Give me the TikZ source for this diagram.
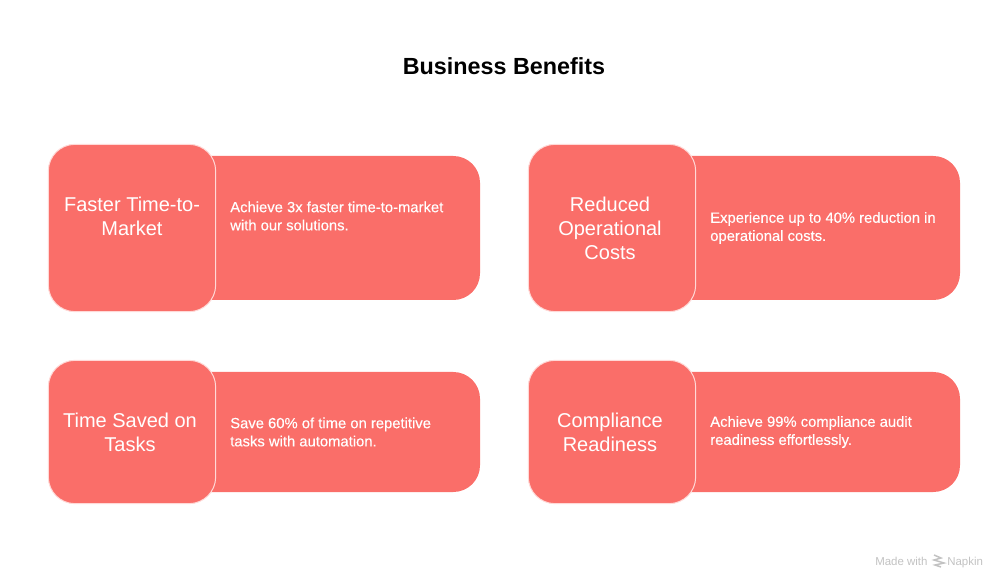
\documentclass[tikz,border=0pt]{standalone}
\usepackage{fontspec}
\setmainfont{Liberation Sans}
\newfontfamily\medfont[FakeBold=0.25]{Liberation Sans}
\definecolor{coral}{HTML}{FA6E69}
\definecolor{edge}{HTML}{FFD9D7}
\definecolor{creditgray}{HTML}{C2C2C2}
\tikzset{
  x=0.75pt,y=-0.75pt,
  panel/.style={fill=coral,draw=none},
  tile/.style={fill=coral,draw=edge,line width=0.75pt,rectangle,rounded corners=20pt,inner sep=0pt,minimum width=125.5pt},
  headtext/.style={text=white,font=\fontsize{15}{18}\selectfont,align=center,inner sep=0pt},
  bodytext/.style={text=white,font=\medfont\fontsize{11.1}{13.6}\selectfont,align=left,anchor=west,inner sep=0pt},
  titletext/.style={text=black,font=\fontsize{17.5}{22}\selectfont\bfseries,inner sep=0pt},
  credit/.style={text=creditgray,font=\fontsize{8.6}{10}\selectfont,inner sep=0pt,anchor=base west},
}
\begin{document}
\begin{tikzpicture}
\useasboundingbox (0,0) rectangle (1008,588);
\node[titletext] (title) at (504,66) {Business Benefits};
% row one
\fill[panel] (205,156) [rounded corners=20pt] -- (480,156) -- (480,300) [sharp corners] -- (205,300) -- cycle;
\node[tile,minimum height=125.5pt] (t1) at (132,228) {};
\node[headtext] (h1) at (132,216) {Faster Time-to-\\Market};
\node[bodytext] (b1) at (230,216) {Achieve 3x faster time-to-market\\with our solutions.};
\fill[panel] (685,156) [rounded corners=20pt] -- (960,156) -- (960,300) [sharp corners] -- (685,300) -- cycle;
\node[tile,minimum height=125.5pt] (t2) at (612,228) {};
\node[headtext] (h2) at (610,228) {Reduced\\Operational\\Costs};
\node[bodytext] (b2) at (710,228) {Experience up to 40\% reduction in\\operational costs.};
% row two
\fill[panel] (205,372) [rounded corners=20pt] -- (480,372) -- (480,492) [sharp corners] -- (205,492) -- cycle;
\node[tile,minimum height=107.5pt] (t3) at (132,432) {};
\node[headtext] (h3) at (130,432) {Time Saved on\\Tasks};
\node[bodytext] (b3) at (230,432) {Save 60\% of time on repetitive\\tasks with automation.};
\fill[panel] (685,372) [rounded corners=20pt] -- (960,372) -- (960,492) [sharp corners] -- (685,492) -- cycle;
\node[tile,minimum height=107.5pt] (t4) at (612,432) {};
\node[headtext] (h4) at (610,432) {Compliance\\Readiness};
\node[bodytext] (b4) at (710,432) {Achieve 99\% compliance audit\\readiness effortlessly.};
% credit
\node[credit] (m1) at (875,565) {Made with};
\node[credit] (m2) at (947,565) {Napkin};
\draw[creditgray,line width=1.1pt] (934,555) -- (941,558) -- (934,560) -- (944,563) -- (935,565) -- (941,567);
\end{tikzpicture}
\end{document}
